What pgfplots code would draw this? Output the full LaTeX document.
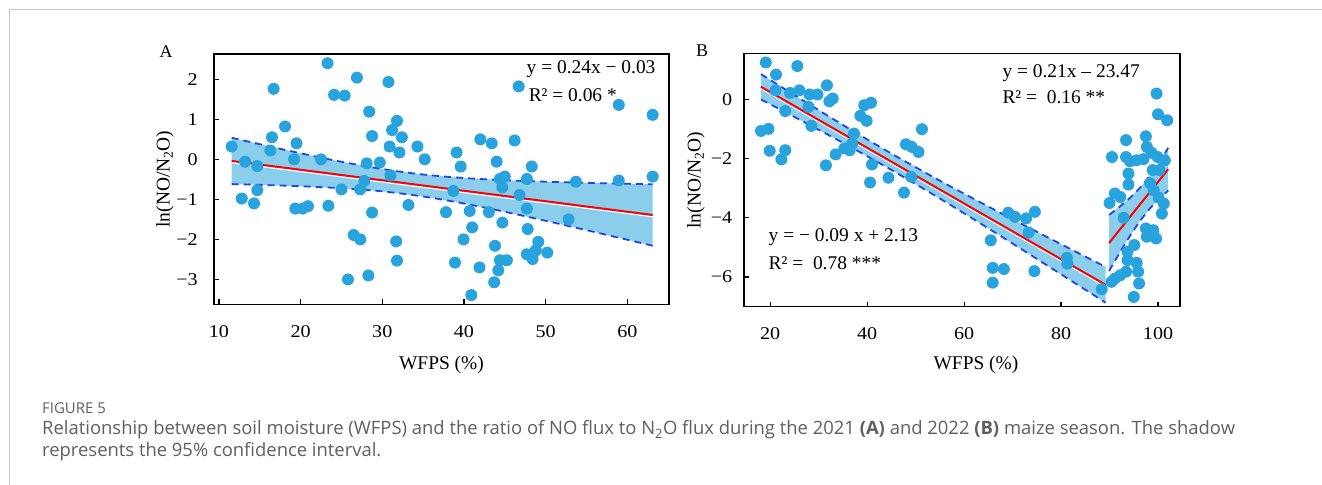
\documentclass[border=0pt]{standalone}
\usepackage{pgfplots}
\pgfplotsset{compat=1.18}
\usepackage{fontspec}
\setmainfont{Liberation Serif}
\newfontfamily\capfont{Open Sans}
\definecolor{dotc}{RGB}{40,163,222}
\definecolor{bandc}{RGB}{138,206,236}
\definecolor{dashc}{RGB}{30,70,235}
\definecolor{framec}{RGB}{200,200,200}
\definecolor{capc}{RGB}{95,95,95}
\pgfdeclareplotmark{fdot}{\pgfpathcircle{\pgfpoint{0pt}{0pt}}{\pgfplotmarksize}\pgfusepathqfill}
\pgfplotsset{
  myax/.style={
    scale only axis, anchor=south west,
    axis line style={line width=1.3bp},
    tick style={line width=1.2bp, black},
    major tick length=5bp,
    tick pos=left, tick align=inside,
    ticklabel style={font=\fontsize{18}{20}\selectfont},
    xticklabel style={anchor=center, yshift=-27bp, xscale=1.12},
    yticklabel style={anchor=east, inner sep=0pt, xshift=-16bp, xscale=1.12},
    label style={font=\fontsize{19.5}{22}\selectfont},
  },
  mydots/.style={only marks, color=dotc, fill=dotc, mark=fdot, mark size=6bp, mark options={fill=dotc}},
  dashl/.style={dashc, line width=1.8bp, dash pattern=on 7bp off 5bp},
}
\pgfplotstableread{
x y
11.56 0.32
12.8 -0.98
13.2 -0.06
14.3 -1.1
14.7 -0.17
14.7 -0.77
16.7 1.76
16.5 0.55
16.3 0.22
18.1 0.82
19.5 0.4
19.2 0.0
19.35 -1.23
20.25 -1.23
20.9 -1.17
22.5 0.0
23.4 -1.16
23.3 2.4
24.1 1.61
25.4 1.59
25.0 -0.75
26.9 2.04
28.4 1.19
28.75 0.58
28.1 -0.1
27.8 -0.54
27.3 -0.75
28.75 -1.33
29.7 -0.08
30.75 1.93
31.2 0.73
31.8 0.96
32.4 0.55
30.9 0.32
32.1 0.17
31.0 -0.4
33.2 -1.14
34.3 0.32
26.5 -1.89
27.3 -2.0
25.8 -3.0
28.3 -2.9
31.7 -2.05
31.8 -2.53
35.2 0.0
39.1 0.17
39.6 -0.18
42.0 0.5
43.4 0.4
46.2 0.47
46.7 1.82
44.0 -0.06
44.4 -0.49
45.0 -0.43
44.7 -0.7
48.3 -0.18
47.7 -0.49
46.8 -0.89
47.7 -1.23
38.7 -0.79
37.8 -1.32
40.7 -1.29
43.05 -1.32
53.7 -0.56
58.95 -0.53
58.95 1.36
63.1 1.11
63.1 -0.43
52.8 -1.5
44.7 -1.58
41.0 -1.7
47.8 -1.74
39.95 -2.0
43.8 -2.16
49.1 -2.06
48.8 -2.27
47.7 -2.37
48.4 -2.49
50.2 -2.33
38.9 -2.58
41.9 -2.7
44.4 -2.52
45.25 -2.52
44.2 -2.77
43.7 -3.07
40.9 -3.39
}\dataA
\pgfplotstableread{
x y
19.1 1.24
21.2 0.83
21.1 0.30
18.1 -1.07
19.65 -1.0
19.9 -1.74
22.3 -2.03
23.1 -1.72
23.1 -0.40
25.6 1.12
24.1 0.21
26.0 0.30
28.1 0.16
29.75 0.16
27.9 -0.26
28.5 -0.90
31.7 0.47
32.2 -0.07
32.9 0.02
31.5 -2.23
33.5 -1.86
35.3 -1.66
36.4 -1.72
37.3 -1.16
36.9 -1.5
38.6 -0.56
39.4 -0.2
40.8 -0.12
39.9 -0.73
41.0 -2.2
40.6 -2.81
44.4 -2.65
47.6 -3.15
48.0 -1.52
49.2 -1.61
50.6 -1.78
51.3 -1.01
49.1 -2.62
69.1 -3.83
70.5 -3.97
72.8 -4.02
74.6 -3.8
73.3 -4.5
65.5 -4.76
65.9 -5.69
68.2 -5.73
65.9 -6.19
74.5 -5.8
81.2 -5.35
81.3 -5.55
88.4 -6.41
99.7 0.19
100.0 -0.51
101.9 -0.71
93.4 -1.38
97.5 -1.25
90.5 -1.95
93.4 -1.95
94.2 -2.09
95.6 -2.06
97.7 -1.61
98.7 -1.81
99.9 -1.95
101.4 -2.06
97.0 -2.02
98.9 -2.39
100.3 -2.39
93.9 -2.51
93.9 -2.88
91.1 -3.18
90.0 -3.5
92.2 -3.3
98.4 -2.84
99.1 -3.07
100.1 -3.32
101.2 -3.52
100.8 -3.86
92.9 -4.0
97.5 -4.36
99.0 -4.42
98.4 -4.59
99.6 -4.7
97.7 -4.64
95.1 -4.92
93.7 -5.15
93.7 -5.43
95.6 -5.52
95.9 -5.82
93.4 -5.82
92.2 -5.94
91.1 -6.05
90.4 -6.16
96.1 -6.22
95.0 -6.67
}\dataB
\begin{document}
\begin{tikzpicture}[x=1bp,y=1bp]
\path[use as bounding box] (0,0) rectangle (1322,485);
\draw[framec, line width=1bp] (9,0) -- (9,475) -- (1322,475);
\node[font=\fontsize{18}{20}\selectfont] at (166,433.7) {A};
\node[font=\fontsize{18}{20}\selectfont] at (702,434) {B};

\begin{axis}[myax, at={(214bp,180.7bp)}, width=455bp, height=250.3bp,
  xmin=9.4, xmax=65.1, ymin=-3.62, ymax=2.63,
  xtick={10,20,30,40,50,60}, xticklabels={10,20,30,40,50,60},
  ytick={-3,-2,-1,0,1,2}, yticklabels={−3,−2,−1,0,1,2},
  xlabel={WFPS (\%)}, ylabel={ln(NO/N\textsubscript{2}O)},
  xlabel style={at={(axis description cs:0.5,-0.243)}, anchor=center},
  ylabel style={at={(axis description cs:-0.1077,0.5)}, anchor=center}]
\addplot[fill=bandc, draw=none] coordinates {
 (11.56,0.539) (15,0.378) (20,0.150) (25,-0.061) (30,-0.242) (35,-0.380) (40,-0.467) (45,-0.522) (50,-0.559) (55,-0.587) (60,-0.610) (63.1,-0.622)
 (63.1,-2.158) (60,-2.008) (55,-1.769) (50,-1.535) (45,-1.310) (40,-1.103) (35,-0.928) (30,-0.800) (25,-0.723) (20,-0.672) (15,-0.638) (11.56,-0.619)} -- cycle;
\addplot[mydots] table[x=x,y=y] {\dataA};
\addplot[dashl, smooth] coordinates {(11.56,0.539) (15,0.378) (20,0.150) (25,-0.061) (30,-0.242) (35,-0.380) (40,-0.467) (45,-0.522) (50,-0.559) (55,-0.587) (60,-0.610) (63.1,-0.622)};
\addplot[dashl, smooth] coordinates {(11.56,-0.619) (15,-0.638) (20,-0.672) (25,-0.723) (30,-0.800) (35,-0.928) (40,-1.103) (45,-1.310) (50,-1.535) (55,-1.769) (60,-2.008) (63.1,-2.158)};
\addplot[white, line width=1.2bp, yshift=-1.8bp] coordinates {(11.56,-0.04) (63.1,-1.39)};
\addplot[red, line width=2bp] coordinates {(11.56,-0.04) (63.1,-1.39)};
\node[anchor=west, font=\fontsize{19.5}{22}\selectfont] at (axis cs:47.25,2.25) {y = 0.24x − 0.03};
\node[anchor=west, font=\fontsize{19.5}{22}\selectfont] at (axis cs:47.5,1.61) {R² = 0.06 *};
\end{axis}

\begin{axis}[myax, at={(744bp,178.3bp)}, width=436bp, height=253.4bp,
  xmin=14.6, xmax=104.54, ymin=-7.0, ymax=1.55,
  xtick={20,40,60,80,100}, xticklabels={20,40,60,80,100},
  ytick={-6,-4,-2,0}, yticklabels={−6,−4,−2,0},
  yticklabel style={xshift=4bp},
  xlabel={WFPS (\%)}, ylabel={ln(NO/N\textsubscript{2}O)},
  xlabel style={at={(axis description cs:0.532,-0.230)}, anchor=center},
  ylabel style={at={(axis description cs:-0.110,0.5)}, anchor=center}]
\addplot[fill=bandc, draw=none] coordinates {
 (18.1,0.848) (25,0.139) (35,-0.868) (45,-1.833) (55,-2.748) (65,-3.621) (75,-4.472) (85,-5.310) (89.2,-5.659)
 (89.2,-6.867) (85,-6.428) (75,-5.386) (65,-4.357) (55,-3.350) (45,-2.385) (35,-1.470) (25,-0.597) (18.1,-0.008)} -- cycle;
\addplot[fill=bandc, draw=none] coordinates {
 (89.9,-3.903) (92,-3.638) (94,-3.359) (96,-3.035) (98,-2.646) (100,-2.184) (102.1,-1.641)
 (102.1,-3.083) (100,-3.396) (98,-3.750) (96,-4.177) (94,-4.669) (92,-5.206) (89.9,-5.797)} -- cycle;
\addplot[mydots] table[x=x,y=y] {\dataB};
\addplot[dashl, smooth] coordinates {(18.1,0.848) (25,0.139) (35,-0.868) (45,-1.833) (55,-2.748) (65,-3.621) (75,-4.472) (85,-5.310) (89.2,-5.659)};
\addplot[dashl, smooth] coordinates {(18.1,-0.008) (25,-0.597) (35,-1.470) (45,-2.385) (55,-3.350) (65,-4.357) (75,-5.386) (85,-6.428) (89.2,-6.867)};
\addplot[dashl, smooth] coordinates {(89.9,-3.903) (92,-3.638) (94,-3.359) (96,-3.035) (98,-2.646) (100,-2.184) (102.1,-1.641)};
\addplot[dashl, smooth] coordinates {(89.9,-5.797) (92,-5.206) (94,-4.669) (96,-4.177) (98,-3.750) (100,-3.396) (102.1,-3.083)};
\addplot[white, line width=1.2bp, yshift=-1.8bp] coordinates {(18.1,0.42) (89.2,-6.263)};
\addplot[red, line width=2bp] coordinates {(18.1,0.42) (89.2,-6.263)};
\addplot[red, line width=2bp] coordinates {(89.9,-4.85) (102.1,-2.362)};
\node[anchor=west, font=\fontsize{19.5}{22}\selectfont] at (axis cs:67.2,0.877) {y = 0.21x – 23.47};
\node[anchor=west, font=\fontsize{19.5}{22}\selectfont] at (axis cs:67.2,0.067) {R² =\ \ 0.16 **};
\node[anchor=west, font=\fontsize{19.5}{22}\selectfont] at (axis cs:18.97,-4.654) {y = − 0.09 x + 2.13};
\node[anchor=west, font=\fontsize{19.5}{22}\selectfont] at (axis cs:18.97,-5.53) {R² =\ \ 0.78 ***};
\end{axis}

\begin{scope}[capc]
\node[anchor=west, inner sep=0, font=\capfont\fontsize{15}{17}\selectfont] at (42,77) {FIGURE 5};
\node[anchor=west, inner sep=0, font=\capfont\fontsize{18.5}{20}\selectfont] at (42,55) {Relationship between soil moisture (WFPS) and the ratio of NO flux to N\textsubscript{2}O flux during the 2021 \textbf{(A)} and 2022 \textbf{(B)} maize season. The shadow};
\node[anchor=west, inner sep=0, font=\capfont\fontsize{18.5}{20}\selectfont] at (42,33) {represents the 95\% confidence interval.};
\end{scope}
\end{tikzpicture}
\end{document}
